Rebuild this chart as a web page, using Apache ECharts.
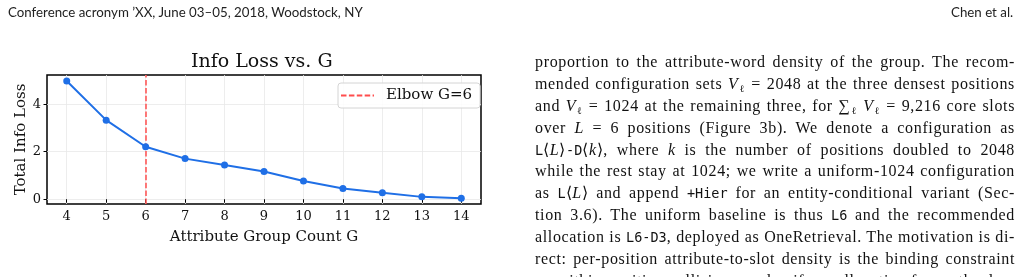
<!DOCTYPE html>
<html>
<head>
<meta charset="utf-8">
<script src="https://cdn.jsdelivr.net/npm/echarts@6/dist/echarts.min.js"></script>
<style>
  html, body { margin: 0; padding: 0; background: #fff; }
  body { width: 1024px; height: 277px; position: relative; overflow: hidden; }
  #chart { position: absolute; left: 0; top: 0; width: 1024px; height: 277px; }
  .hdr { position: absolute; top: 4px; font-family: Lato, "Open Sans", sans-serif; font-size: 13.3px; color: #222; white-space: nowrap; }
  .para { position: absolute; left: 535px; width: 480px; font-family: "Liberation Serif", serif; font-size: 16px; letter-spacing: 0.65px; color: #111; }
  .ln { height: 21.9px; line-height: 21.9px; text-align: justify; text-align-last: justify; overflow: visible; white-space: nowrap; }
  .tt { font-family: "DejaVu Sans Mono", monospace; font-size: 13.5px; letter-spacing: 0; }
  .it { font-style: italic; }
  sub { font-size: 10px; line-height: 0; vertical-align: -3px; letter-spacing: 0; }
</style>
</head>
<body>
<div id="chart"></div>
<div class="hdr" style="left:8px;">Conference acronym ’XX, June 03–05, 2018, Woodstock, NY</div>
<div class="hdr" style="left:951px;">Chen et al.</div>
<div class="para" style="top:51px;">
  <div class="ln">proportion to the attribute-word density of the group. The recom-</div>
  <div class="ln">mended configuration sets <span class="it">V</span><sub>ℓ</sub> = 2048 at the three densest positions</div>
  <div class="ln">and <span class="it">V</span><sub>ℓ</sub> = 1024 at the remaining three, for ∑<sub>ℓ</sub> <span class="it">V</span><sub>ℓ</sub> = 9,216 core slots</div>
  <div class="ln">over <span class="it">L</span> = 6 positions (Figure 3b). We denote a configuration as</div>
  <div class="ln"><span class="tt">L</span>⟨<span class="it">L</span>⟩<span class="tt">-D</span>⟨<span class="it">k</span>⟩, where <span class="it">k</span> is the number of positions doubled to 2048</div>
  <div class="ln">while the rest stay at 1024; we write a uniform-1024 configuration</div>
  <div class="ln">as <span class="tt">L</span>⟨<span class="it">L</span>⟩ and append <span class="tt">+Hier</span> for an entity-conditional variant (Sec-</div>
  <div class="ln">tion 3.6). The uniform baseline is thus <span class="tt">L6</span> and the recommended</div>
  <div class="ln">allocation is <span class="tt">L6-D3</span>, deployed as OneRetrieval. The motivation is di-</div>
  <div class="ln">rect: per-position attribute-to-slot density is the binding constraint</div>
  <div class="ln">on within-position collisions, and uniform allocation forces the dense</div>
</div>
<script>
// ---- data ----
const groupCounts = [4, 5, 6, 7, 8, 9, 10, 11, 12, 13, 14];
const infoLoss    = [4.98, 3.33, 2.21, 1.71, 1.44, 1.17, 0.77, 0.45, 0.27, 0.10, 0.04];
const elbowG = 6;
const xTickValues = [4, 5, 6, 7, 8, 9, 10, 11, 12, 13, 14];
const yTickValues = [0, 2, 4];
const titleText = 'Info Loss vs. G';
const xLabel = 'Attribute Group Count G';
const yLabel = 'Total Info Loss';
const elbowLabel = 'Elbow G=' + elbowG;

const serif = 'DejaVu Serif';
const chart = echarts.init(document.getElementById('chart'), null, { renderer: 'canvas' });
const points = groupCounts.map((g, i) => [g, infoLoss[i]]);
const dash = [5.5, 2.4];
const red = '#ff4d4d';
const blue = '#1f6fe6';

chart.setOption({
  animation: false,
  backgroundColor: 'transparent',
  title: {
    text: titleText, left: 191, top: 53, padding: 0,
    textStyle: { fontFamily: serif, fontSize: 19, fontWeight: 'normal', color: '#111' }
  },
  grid: {
    left: 47, right: 543, top: 75, bottom: 73,
    show: true, borderColor: '#000', borderWidth: 1.5, backgroundColor: 'transparent'
  },
  legend: {
    left: 338, top: 83, padding: [5, 8, 5, 2],
    backgroundColor: 'rgba(255,255,255,0.85)', borderColor: '#d4d4d4', borderWidth: 1, borderRadius: 3,
    itemWidth: 33, itemHeight: 14,
    itemStyle: { opacity: 0, borderWidth: 0 },
    data: [elbowLabel],
    textStyle: { fontFamily: serif, fontSize: 15, color: '#111', padding: [0, 0, 0, 7] }
  },
  xAxis: {
    type: 'value', min: 3.5, max: 14.5,
    name: xLabel, nameLocation: 'middle', nameGap: 26,
    nameTextStyle: { fontFamily: serif, fontSize: 15, color: '#111' },
    axisLine: { show: false },
    axisTick: { show: true, length: 3.5, lineStyle: { color: '#000', width: 1 }, customValues: xTickValues },
    axisLabel: { customValues: xTickValues, margin: 6, fontFamily: serif, fontSize: 13, color: '#111' },
    splitLine: { show: true, lineStyle: { color: '#e8e8e8', width: 0.8 } }
  },
  yAxis: {
    type: 'value', min: -0.2, max: 5.23,
    name: yLabel, nameLocation: 'middle', nameGap: 18, nameRotate: 90,
    nameTextStyle: { fontFamily: serif, fontSize: 15, color: '#111' },
    axisLine: { show: false },
    axisTick: { show: true, length: 3.5, lineStyle: { color: '#000', width: 1 }, customValues: yTickValues },
    axisLabel: { customValues: yTickValues, margin: 6, fontFamily: serif, fontSize: 13, color: '#111' },
    splitLine: { show: true, lineStyle: { color: '#e8e8e8', width: 0.8 } }
  },
  series: [
    {
      name: 'Total Info Loss', type: 'line', data: points,
      symbol: 'circle', symbolSize: 7,
      lineStyle: { color: blue, width: 2 },
      itemStyle: { color: blue },
      z: 5
    },
    {
      name: elbowLabel, type: 'line', data: [], symbol: 'none',
      lineStyle: { color: red, width: 1.5, type: dash },
      itemStyle: { color: red },
      markLine: {
        silent: true, symbol: 'none', label: { show: false },
        lineStyle: { color: red, width: 1.5, type: dash },
        data: [{ xAxis: elbowG }]
      },
      z: 4
    }
  ]
});
</script>
</body>
</html>
